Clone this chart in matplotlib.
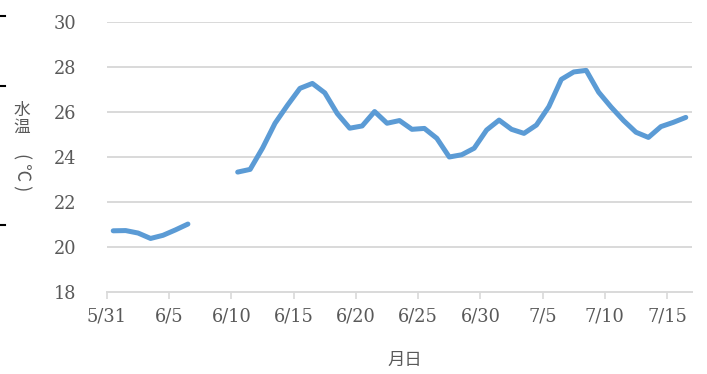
import numpy as np
import pandas as pd
import matplotlib
matplotlib.use("Agg")
import matplotlib.pyplot as plt
from matplotlib.lines import Line2D

# Daily water temperature, 5/31 - 7/16 (no readings 6/7 - 6/9)
dates = pd.date_range("2021-05-31", "2021-07-16", freq="D")
water_temp = [
    20.72, 20.73, 20.62, 20.38, 20.52, 20.76, 21.02,
    np.nan, np.nan, np.nan,
    23.33, 23.45, 24.40, 25.50, 26.30, 27.05, 27.27, 26.85, 25.93, 25.28,
    25.38, 26.02, 25.50, 25.62, 25.23, 25.27, 24.83, 24.00, 24.10, 24.39,
    25.20, 25.64, 25.23, 25.05, 25.42, 26.24, 27.45, 27.78, 27.85, 26.88,
    26.22, 25.62, 25.10, 24.87, 25.35, 25.54, 25.76,
]
y_ticks = [18, 20, 22, 24, 26, 28, 30]
tick_step = 5
x_title = "月日"
y_title_top = "水\n温"
y_title_unit = "( ℃ )"

labels = [f"{d.month}/{d.day}" for d in dates]
day_index = np.arange(len(dates))

W, H = 707, 374
fig = plt.figure(figsize=(W / 100, H / 100), dpi=100)
ax = fig.add_axes([107 / W, 1 - 292 / H, (692 - 107) / W, (292 - 22) / H])

grid_c = "#d9d9d9"
text_c = "#595959"
line_c = "#5b9bd5"

# points sit in the middle of each day slot
ax.plot(day_index + 0.5, water_temp, color=line_c, lw=3.6,
        solid_joinstyle="round", solid_capstyle="round", zorder=3)

ax.set_xlim(0, len(dates))
ax.set_ylim(y_ticks[0], y_ticks[-1])
ax.set_yticks(y_ticks)
ax.set_yticklabels([str(v) for v in y_ticks])
ax.set_xticks(day_index[::tick_step])
ax.set_xticklabels(labels[::tick_step])

for v in y_ticks[1:]:
    ax.axhline(v, color=grid_c, lw=1.4, zorder=1)

for s in ["left", "right", "top"]:
    ax.spines[s].set_visible(False)
ax.spines["bottom"].set_color(grid_c)
ax.spines["bottom"].set_linewidth(1.4)

ax.tick_params(axis="y", length=0, pad=22, labelsize=12.8, labelcolor=text_c)
ax.tick_params(axis="x", length=5, width=1.2, color=grid_c, pad=6,
               labelsize=12.8, labelcolor=text_c)
for lab in ax.get_xticklabels() + ax.get_yticklabels():
    lab.set_family("DejaVu Serif")

cjk = ["Noto Sans CJK JP", "DejaVu Sans"]
fig.text(405 / W, 1 - 360 / H, x_title, family=cjk, fontsize=12.5,
         color=text_c, ha="center", va="center")
fig.text(22 / W, 1 - 119 / H, y_title_top, family=cjk, fontsize=12,
         color=text_c, ha="center", va="center", linespacing=1.0)
fig.text(22 / W, 1 - 172 / H, y_title_unit, family=cjk, fontsize=13,
         color=text_c, ha="center", va="center", rotation=-90)

# short dark marks along the left edge
for yp in [16, 86, 225]:
    fig.add_artist(Line2D([0, 5 / W], [1 - yp / H] * 2, color="black",
                          lw=1.5, transform=fig.transFigure))

fig.savefig("out.png", dpi=100)
